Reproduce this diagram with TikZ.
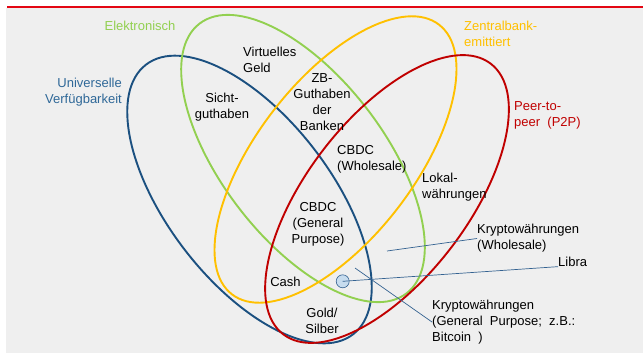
\documentclass[tikz,border=0pt]{standalone}
\usepackage{fontspec}
\setmainfont{Liberation Sans}
\usepackage{xcolor}
\usepackage{tikz}
\usetikzlibrary{calc, positioning}
\definecolor{ellblue}{RGB}{27,80,128}
\definecolor{txtblue}{RGB}{47,104,152}
\definecolor{ellgreen}{RGB}{146,208,80}
\definecolor{ellyellow}{RGB}{255,192,0}
\definecolor{ellred}{RGB}{192,0,0}
\definecolor{leadblue}{RGB}{52,98,145}
\definecolor{dotfill}{RGB}{190,216,238}
\definecolor{bggray}{RGB}{239,239,239}
\definecolor{barred}{RGB}{227,6,19}
\tikzset{
    textnode/.style  = {draw=none, fill=none, rectangle, inner sep = 0pt, 
      font=\fontsize{13}{16}\selectfont},
    leftnode/.style  = {textnode, anchor=west, align=left},
    midnode/.style   = {textnode, align=center},
    setline/.style   = {line width=1.9pt},
    leader/.style    = {leadblue, line width=0.7pt},
    dotnode/.style   = {draw=leadblue, fill=dotfill, fill opacity=0.8, circle, 
      minimum size=13pt, inner sep = 0pt, line width=0.6pt}
}
\begin{document}
\begin{tikzpicture}[x=1pt, y=1pt]
    \useasboundingbox (0,0) rectangle (643,-354);
    \fill[bggray] (6,-8) rectangle (643,-353);
    \draw[barred, line width=2pt] (7,-6.5) -- (643,-6.5);
    \draw[setline, ellblue, rotate around={-52.5:(249.5,-199.5)}] 
      (249.5,-199.5) ellipse [x radius=170, y radius=82];
    \draw[setline, ellgreen, rotate around={-52.5:(303,-158.5)}] 
      (303,-158.5) ellipse [x radius=170, y radius=81];
    \draw[setline, ellyellow, rotate around={52.5:(335.5,-159.5)}] 
      (335.5,-159.5) ellipse [x radius=170, y radius=79];
    \draw[setline, ellred, rotate around={52.5:(387,-199)}] 
      (387,-199) ellipse [x radius=170.5, y radius=80.5];
    \node[midnode, name=elek, text=ellgreen] at (140,-26) {Elektronisch};
    \node[textnode, name=univ, text=txtblue, anchor=east, align=right] at (122,-92.5) 
      {Universelle\\Verfügbarkeit};
    \node[leftnode, name=zent, text=ellyellow] at (464,-33.5) {Zentralbank-\\emittiert};
    \node[leftnode, name=ptop, text=ellred] at (514,-115) {Peer-to-\\peer~ (P2P)};
    \node[leftnode, name=virt] at (243,-60) {Virtuelles\\Geld};
    \node[midnode, name=sicht] at (222,-107.5) {Sicht-\\guthaben};
    \node[midnode, name=zb] at (322,-102.5) {ZB-\\Guthaben\\der\\Banken};
    \node[leftnode, name=cbdcw] at (337,-159) {CBDC\\(Wholesale)};
    \node[leftnode, name=lokal] at (422,-187.5) {Lokal-\\währungen};
    \node[midnode, name=cbdcg] at (318,-224.5) {CBDC\\(General\\Purpose)};
    \node[midnode, name=cash] at (285.5,-281.5) {Cash};
    \node[midnode, name=gold] at (322,-320.5) {Gold/\\Silber};
    \node[leftnode, name=kw] at (477,-238.5) {Kryptowährungen\\(Wholesale)};
    \node[leftnode, name=libra] at (558,-262) {Libra};
    \node[leftnode, name=kgp] at (432,-322) 
      {Kryptowährungen\\(General~ Purpose;~ z.B.:\\Bitcoin~ )};
    \node[dotnode, name=dot] at (342.7,-281.3) {};
    \coordinate (kwpt) at (387,-251);
    \coordinate (kgppt) at (355,-268);
    \draw[leader] (kwpt) -- (kw.west);
    \draw[leader] (dot.center) -- (libra.base west);
    \draw[leader] (kgppt) -- (kgp.west);
\end{tikzpicture}
\end{document}
